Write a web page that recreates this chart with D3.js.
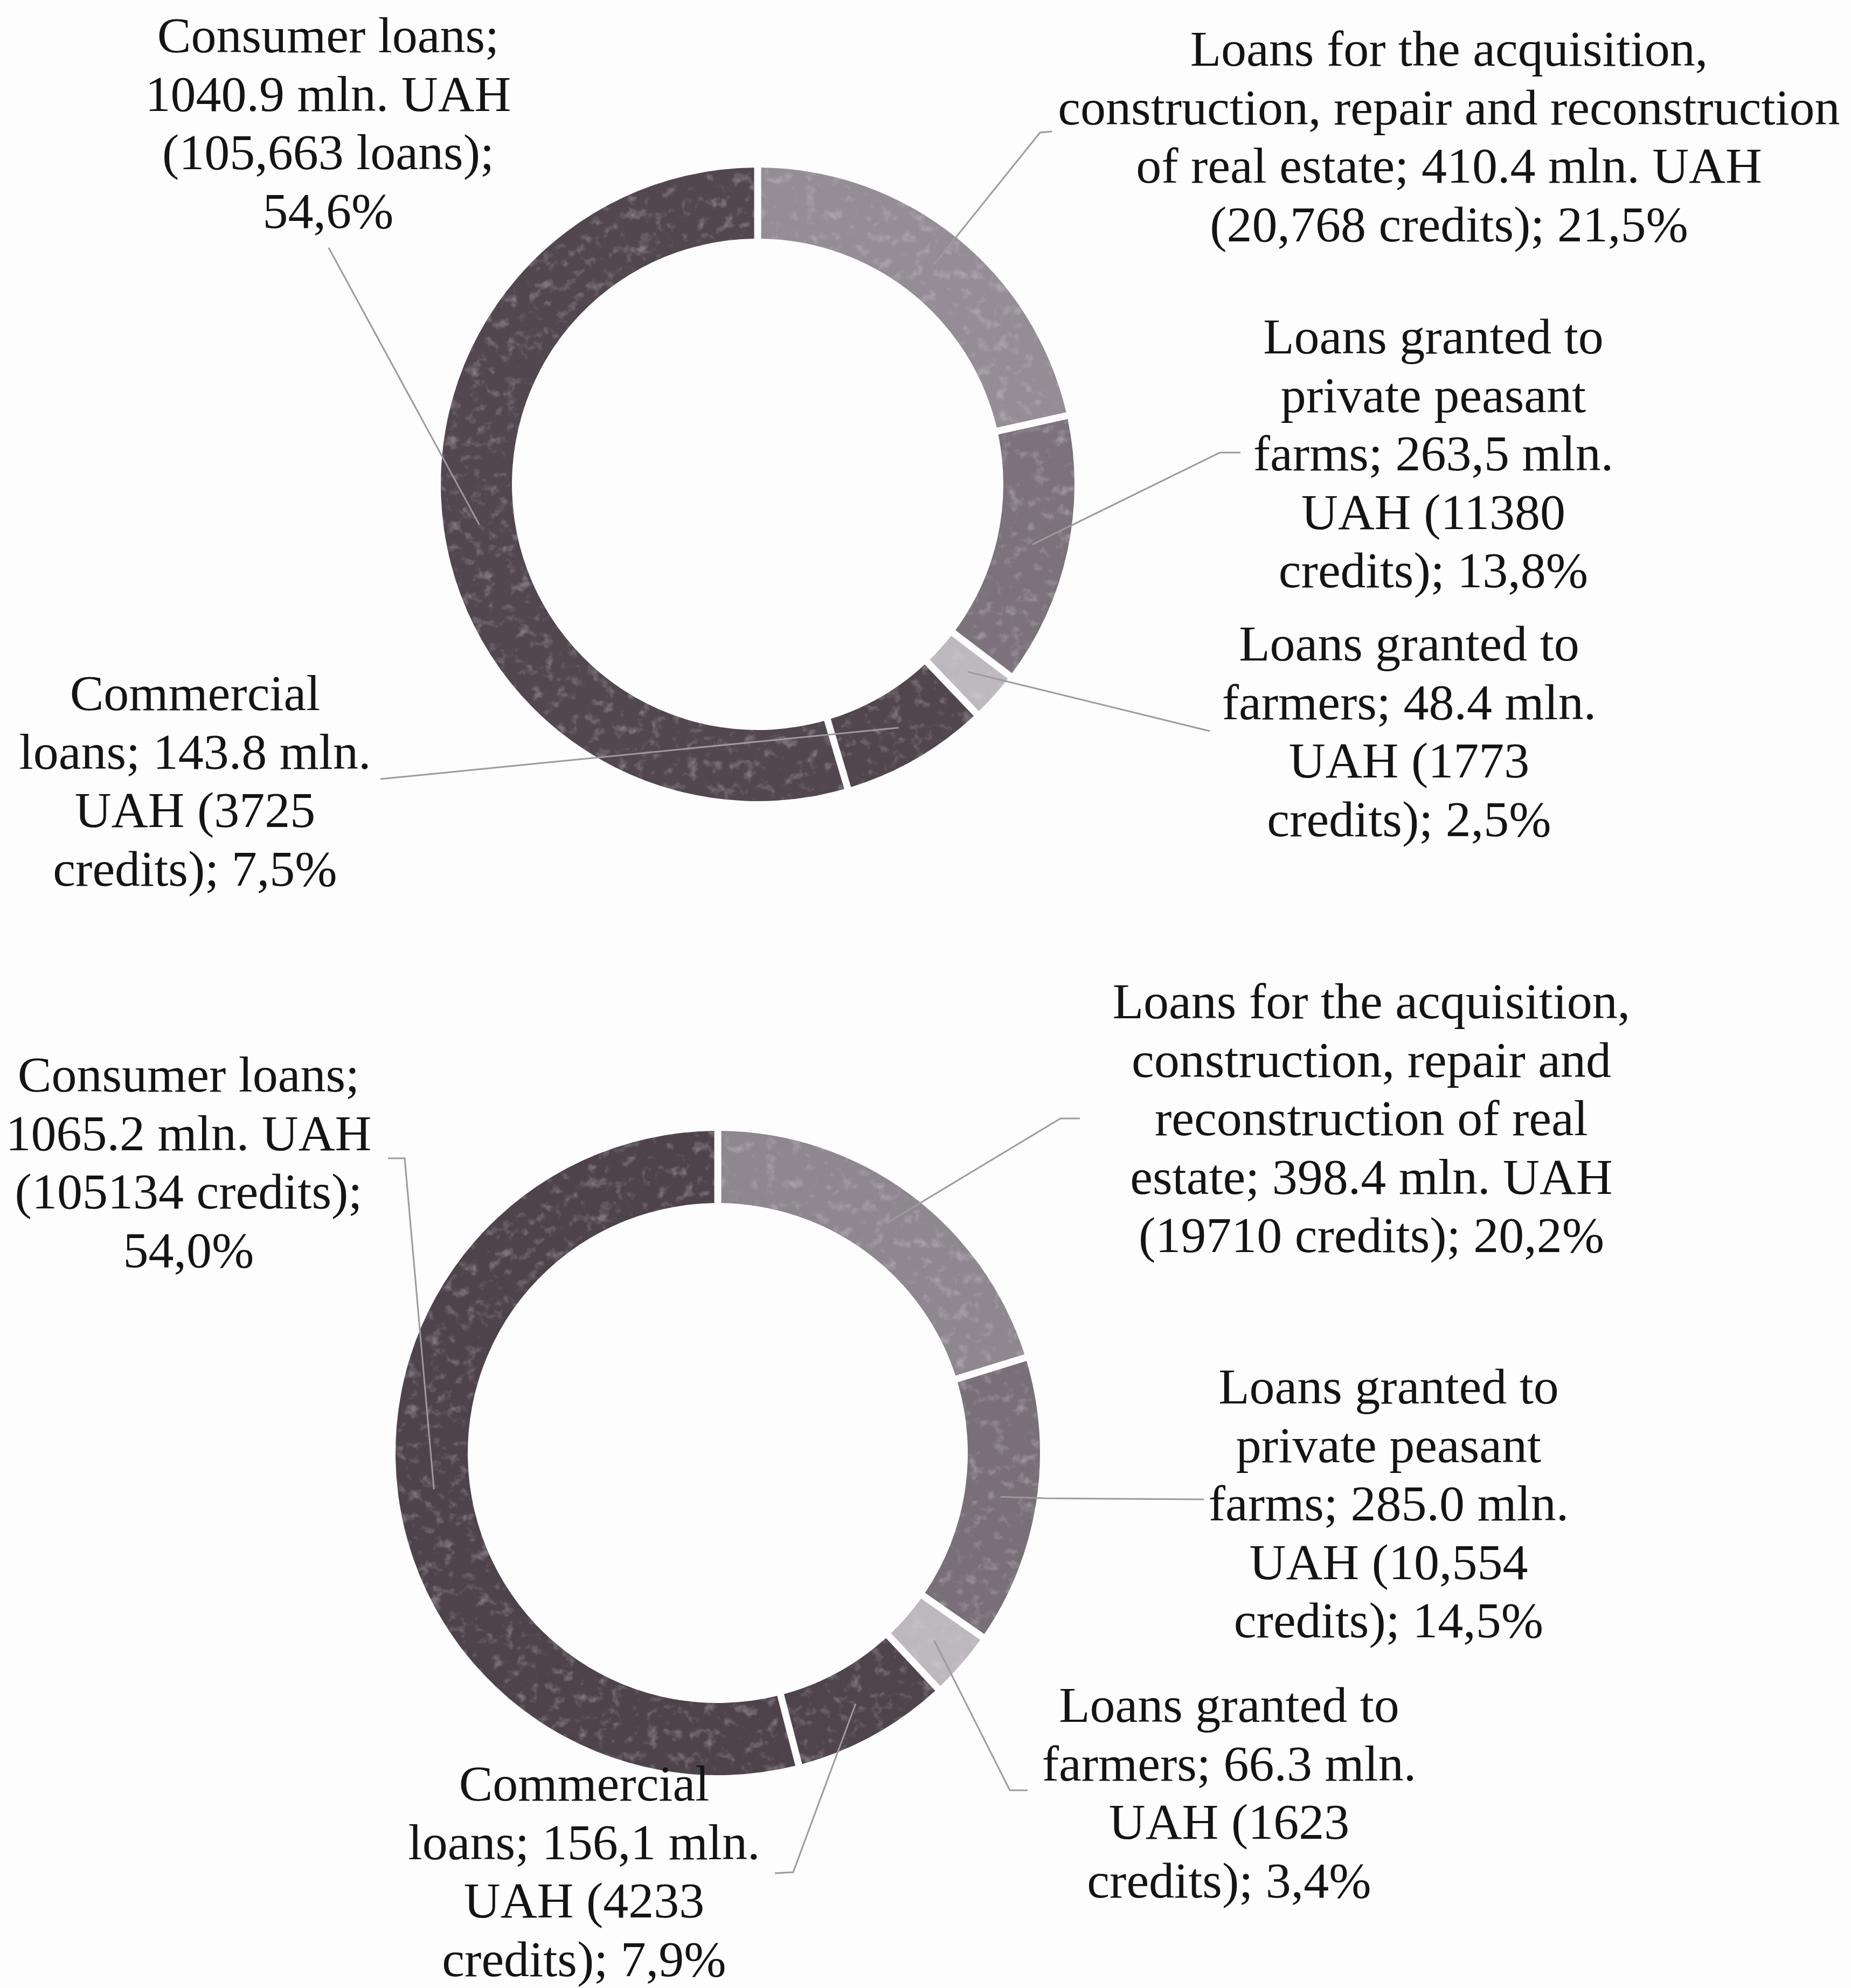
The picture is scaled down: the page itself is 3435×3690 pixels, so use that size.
<!DOCTYPE html>
<html>
<head>
<meta charset="utf-8">
<script src="https://cdn.jsdelivr.net/npm/d3@7"></script>
<style>
  html, body { margin: 0; padding: 0; background: #fdfdfd; }
  svg { display: block; }
</style>
</head>
<body>
<svg id="chart" width="3435" height="3690"></svg>
<script>
// ---------- DATA ----------
const categories = [
  "Loans for the acquisition, construction, repair and reconstruction of real estate",
  "Loans granted to private peasant farms",
  "Loans granted to farmers",
  "Commercial loans",
  "Consumer loans"
];
// mln. UAH
const amountsTop    = [410.4, 263.5, 48.4, 143.8, 1040.9];
const amountsBottom = [398.4, 285.0, 66.3, 156.1, 1065.2];
// number of credits
const creditsTop    = [20768, 11380, 1773, 3725, 105663];
const creditsBottom = [19710, 10554, 1623, 4233, 105134];
// shares as printed
const sharesTop    = ["21,5%", "13,8%", "2,5%", "7,5%", "54,6%"];
const sharesBottom = ["20,2%", "14,5%", "3,4%", "7,9%", "54,0%"];

// label text, as broken into lines in the original
const labelsTop = [
  ["Loans for the acquisition,", "construction, repair and reconstruction", "of real estate; 410.4 mln. UAH", "(20,768 credits); 21,5%"],
  ["Loans granted to", "private peasant", "farms; 263,5 mln.", "UAH (11380", "credits); 13,8%"],
  ["Loans granted to", "farmers; 48.4 mln.", "UAH (1773", "credits); 2,5%"],
  ["Commercial", "loans; 143.8 mln.", "UAH (3725", "credits); 7,5%"],
  ["Consumer loans;", "1040.9 mln. UAH", "(105,663 loans);", "54,6%"]
];
const labelsBottom = [
  ["Loans for the acquisition,", "construction, repair and", "reconstruction of real", "estate; 398.4 mln. UAH", "(19710 credits); 20,2%"],
  ["Loans granted to", "private peasant", "farms; 285.0 mln.", "UAH (10,554", "credits); 14,5%"],
  ["Loans granted to", "farmers; 66.3 mln.", "UAH (1623", "credits); 3,4%"],
  ["Commercial", "loans; 156,1 mln.", "UAH (4233", "credits); 7,9%"],
  ["Consumer loans;", "1065.2 mln. UAH", "(105134 credits);", "54,0%"]
];

// ---------- STYLE / LAYOUT ----------
const colorsTop    = ["#958d96", "#7b727b", "#bcb8bd", "#51464c", "#52474e"];
const colorsBottom = ["#8f8790", "#786f78", "#bcb8bd", "#4f444b", "#4e434b"];

const layouts = [
  {
    values: amountsTop, labels: labelsTop, colors: colorsTop,
    cx: 1406, cy: 899, outer: 588, inner: 456,
    // label centre x, first baseline
    labelPos: [[2689, 122], [2660, 656], [2615, 1226], [362, 1318], [609, 97]],
    // leader line start points (label side); the line ends at the slice centroid
    leaders: [
      [[1952, 244], [1930, 246]],
      [[2302, 840], [2264, 840]],
      [[2245, 1357]],
      [[706, 1446]],
      [[610, 460]]
    ]
  },
  {
    values: amountsBottom, labels: labelsBottom, colors: colorsBottom,
    cx: 1332, cy: 2697, outer: 598, inner: 464,
    labelPos: [[2545, 1890], [2577, 2605], [2281, 3196], [1084, 3342], [350, 2026]],
    leaders: [
      [[2004, 2076], [1968, 2076]],
      [[2234, 2783], [1940, 2781]],
      [[1907, 3323], [1874, 3323]],
      [[1438, 3477], [1472, 3475]],
      [[720, 2150], [751, 2150]]
    ]
  }
];

const lineHeight = 108.5;
const fontSize = 94;
const gapWidth = 13;

// ---------- DRAW ----------
const svg = d3.select("#chart");

// scanned-print mottling
const defs = svg.append("defs");
const f = defs.append("filter").attr("id", "mottle")
  .attr("x", "-2%").attr("y", "-2%").attr("width", "104%").attr("height", "104%")
  .attr("color-interpolation-filters", "sRGB");
f.append("feTurbulence").attr("type", "fractalNoise").attr("baseFrequency", 0.045)
  .attr("numOctaves", 3).attr("seed", 11).attr("result", "noise");
f.append("feColorMatrix").attr("in", "noise").attr("type", "matrix")
  .attr("values", "0 0 0 0 0.85  0 0 0 0 0.82  0 0 0 0 0.86  3.2 0 0 0 -1.75")
  .attr("result", "spots");
f.append("feComposite").attr("in", "spots").attr("in2", "SourceAlpha")
  .attr("operator", "in").attr("result", "spotsIn");
f.append("feComponentTransfer").attr("in", "spotsIn").attr("result", "spotsSoft")
  .append("feFuncA").attr("type", "linear").attr("slope", 0.35);
const m = f.append("feMerge");
m.append("feMergeNode").attr("in", "SourceGraphic");
m.append("feMergeNode").attr("in", "spotsSoft");

svg.append("rect").attr("width", 3435).attr("height", 3690).attr("fill", "#fdfdfd");

const pie = d3.pie().sort(null).value(d => d).startAngle(0).endAngle(2 * Math.PI);

layouts.forEach(L => {
  const arc = d3.arc()
    .innerRadius(L.inner)
    .outerRadius(L.outer)
    .padRadius(L.outer)
    .padAngle(gapWidth / L.outer);
  const centroidArc = d3.arc().innerRadius(L.inner).outerRadius(L.outer);

  const arcs = pie(L.values);
  const g = svg.append("g")
    .attr("transform", `translate(${L.cx},${L.cy})`)
    .attr("filter", "url(#mottle)");

  g.selectAll("path.slice")
    .data(arcs)
    .join("path")
    .attr("class", "slice")
    .attr("d", arc)
    .attr("fill", (d, i) => L.colors[i]);

  // leader lines
  const line = d3.line();
  arcs.forEach((a, i) => {
    const c = centroidArc.centroid(a);
    const pts = L.leaders[i].map(p => [p[0], p[1]]);
    pts.push([c[0] + L.cx, c[1] + L.cy]);
    svg.append("path")
      .attr("d", line(pts))
      .attr("fill", "none")
      .attr("stroke", "#9c9a9c")
      .attr("stroke-width", 3);
  });

  // labels
  L.labels.forEach((lines, i) => {
    const [x, y0] = L.labelPos[i];
    const t = svg.append("text")
      .attr("text-anchor", "middle")
      .attr("font-family", "'Liberation Serif', 'Times New Roman', serif")
      .attr("font-size", fontSize)
      .attr("fill", "#141414");
    lines.forEach((s, k) => {
      t.append("tspan").attr("x", x).attr("y", y0 + k * lineHeight).text(s);
    });
  });
});
</script>
</body>
</html>
